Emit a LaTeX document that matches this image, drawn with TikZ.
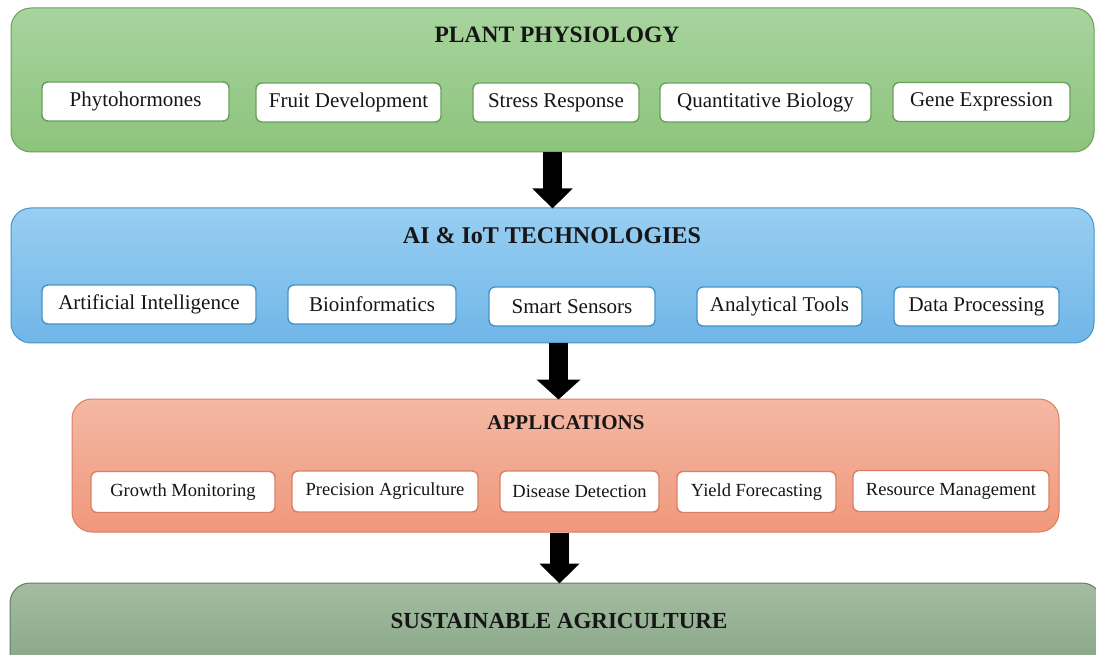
\documentclass[tikz,border=0pt]{standalone}
\usepackage{fontspec}
\setmainfont{Liberation Serif}
\usetikzlibrary{arrows.meta}

\definecolor{gTop}{RGB}{168,212,158}
\definecolor{gBot}{RGB}{140,196,124}
\definecolor{gLine}{RGB}{104,160,88}
\definecolor{bTop}{RGB}{152,206,242}
\definecolor{bBot}{RGB}{112,182,232}
\definecolor{bLine}{RGB}{70,148,198}
\definecolor{oTop}{RGB}{244,184,164}
\definecolor{oBot}{RGB}{240,152,124}
\definecolor{oLine}{RGB}{218,128,98}
\definecolor{sTop}{RGB}{164,188,162}
\definecolor{sBot}{RGB}{128,160,128}
\definecolor{sLine}{RGB}{96,128,96}
\definecolor{ink}{RGB}{22,22,22}

\begin{document}
\begin{tikzpicture}[x=1pt,y=-1pt,
  panel/.style={rectangle, rounded corners=20pt, line width=1pt, inner sep=0pt},
  ptitle/.style={text=ink, font=\bfseries\fontsize{#1}{#1}\selectfont, inner sep=0pt, anchor=center},
  item/.style={rectangle, rounded corners=6pt, fill=white, line width=1.4pt,
    inner sep=0pt, text=ink, font=\fontsize{#1}{#1}\selectfont},
  flow/.style={line width=19pt, -{Triangle[width=#1, length=20pt]}, black}
]
\useasboundingbox (0,0) rectangle (1096,655);
\clip (0,0) rectangle (1096,655);

% ---- layer panels ----
\node[panel, draw=gLine, top color=gTop, bottom color=gBot,
  minimum width=1083pt, minimum height=144pt] (p1) at (552.5,80) {};
\node[panel, draw=bLine, top color=bTop, bottom color=bBot,
  minimum width=1083pt, minimum height=135pt] (p2) at (552.5,275.5) {};
\node[panel, draw=oLine, top color=oTop, bottom color=oBot,
  minimum width=987pt, minimum height=133pt] (p3) at (565.5,465.5) {};
\node[panel, draw=sLine, top color=sTop, bottom color=sBot,
  minimum width=1092pt, minimum height=110pt] (p4) at (556,638) {};

% ---- layer titles ----
\node[ptitle=23.5] (t1) at (557,35) {PLANT PHYSIOLOGY};
\node[ptitle=24] (t2) at (552,236) {AI \& IoT TECHNOLOGIES};
\node[ptitle=21] (t3) at (566,423) {APPLICATIONS};
\node[ptitle=23] (t4) at (559,621) {SUSTAINABLE AGRICULTURE};

% ---- plant physiology topics ----
\begin{scope}[every node/.style={item=21, draw=gLine, minimum height=39pt}]
\node[minimum width=187pt] (g1) at (135.5,101.5) {Phytohormones};
\node[minimum width=185pt] (g2) at (348.5,102.5) {Fruit Development};
\node[minimum width=166pt] (g3) at (556,102.5) {Stress Response};
\node[minimum width=211pt] (g4) at (765.5,102.5) {Quantitative Biology};
\node[minimum width=177pt] (g5) at (981.5,102) {Gene Expression};
\end{scope}

% ---- AI & IoT technologies ----
\begin{scope}[every node/.style={item=21, draw=bLine, minimum height=39pt}]
\node[minimum width=214pt] (b1) at (149,304.5) {Artificial Intelligence};
\node[minimum width=168pt] (b2) at (372,304.5) {Bioinformatics};
\node[minimum width=166pt] (b3) at (572,306.5) {Smart Sensors};
\node[minimum width=165pt] (b4) at (779.5,306.5) {Analytical Tools};
\node[minimum width=165pt] (b5) at (976.5,306.5) {Data Processing};
\end{scope}

% ---- applications ----
\begin{scope}[every node/.style={item=18.5, draw=oLine, minimum height=41pt}]
\node[minimum width=184pt] (o1) at (183,492) {Growth Monitoring};
\node[minimum width=186pt] (o2) at (385,491.5) {Precision Agriculture};
\node[minimum width=159pt] (o3) at (579.5,491.5) {Disease Detection};
\node[minimum width=159pt] (o4) at (756.5,492) {Yield Forecasting};
\node[minimum width=196pt] (o5) at (951,491) {Resource Management};
\end{scope}

% ---- flow between layers ----
\coordinate (x1) at (552.5,0);
\coordinate (x2) at (558.5,0);
\coordinate (x3) at (559.5,0);
\draw[flow=39pt] (p1.south -| x1) -- ([yshift=-1pt]p2.north -| x1);
\draw[flow=43pt] (p2.south -| x2) -- ([yshift=-1pt]p3.north -| x2);
\draw[flow=39pt] (p3.south -| x3) -- ([yshift=-1pt]p4.north -| x3);
\end{tikzpicture}
\end{document}
